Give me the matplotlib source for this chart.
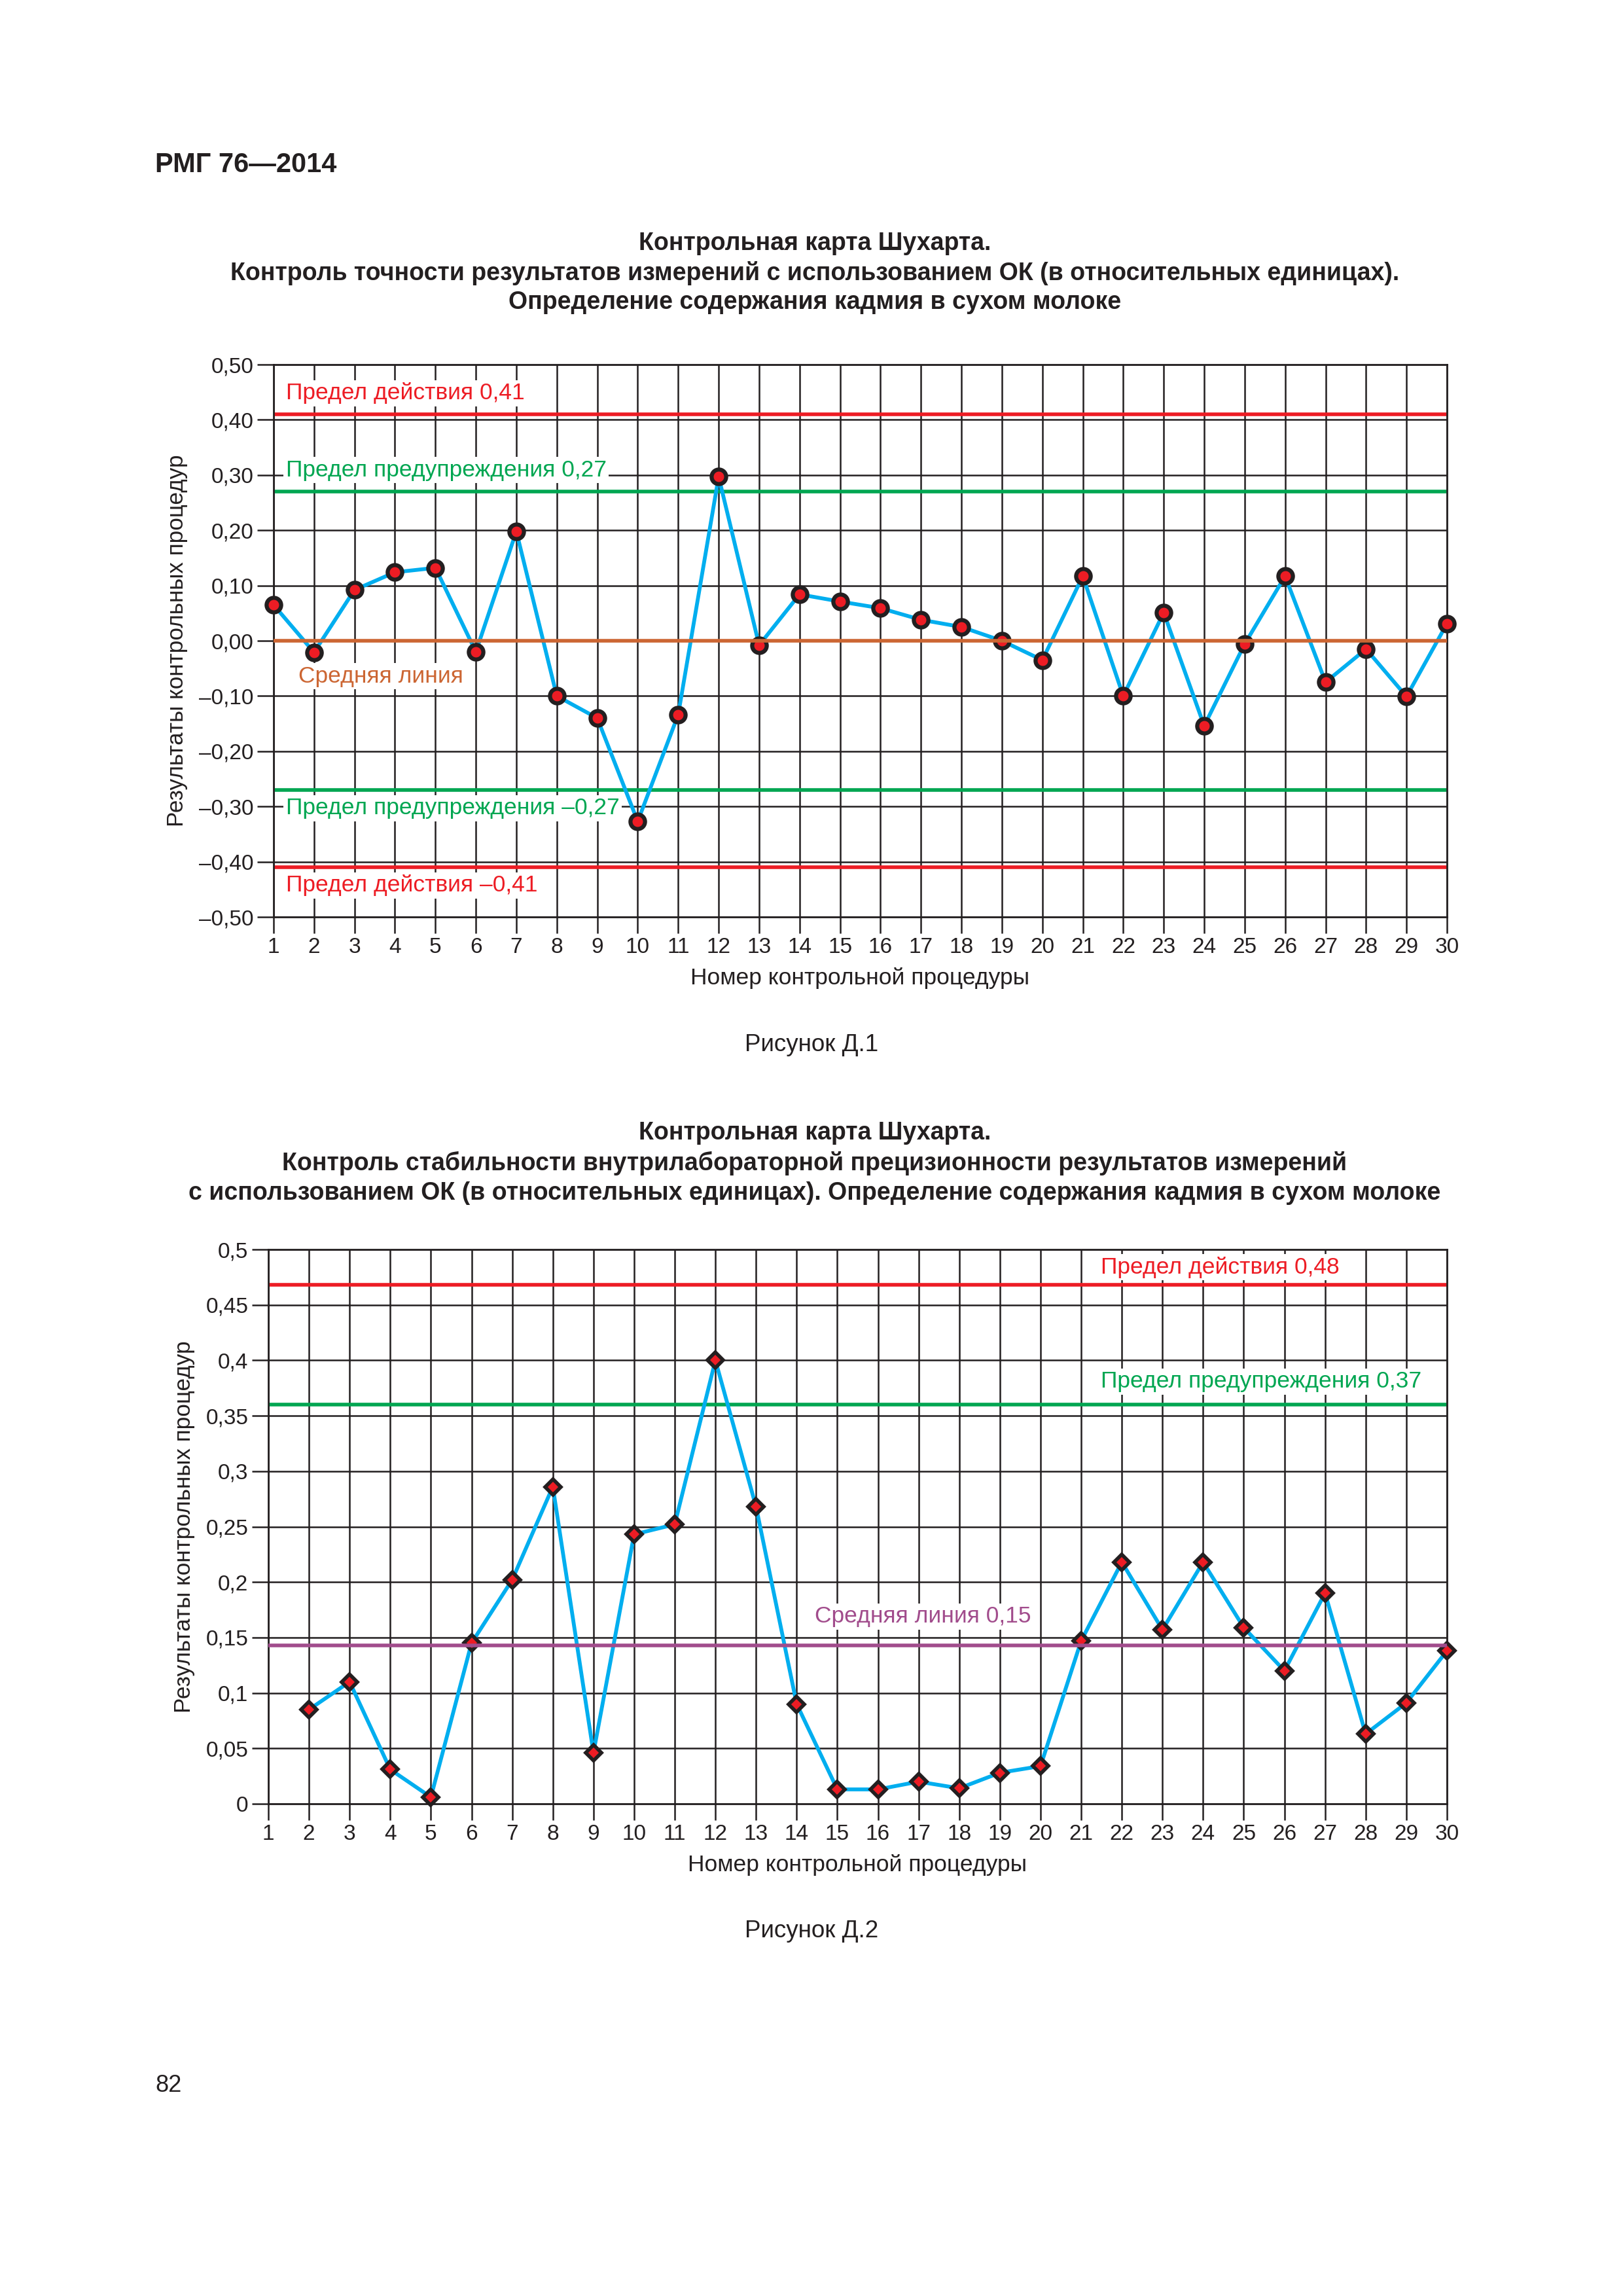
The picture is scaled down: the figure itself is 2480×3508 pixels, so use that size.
import matplotlib
matplotlib.use('Agg')
import matplotlib.pyplot as plt

plt.rcParams['font.family'] = ['Liberation Sans', 'DejaVu Sans']

W, H = 2480, 3508

# --- chart 1: accuracy (relative units) ---
proc = list(range(1, 31))
accuracy = [0.065, -0.021, 0.092, 0.124, 0.132, -0.020, 0.198, -0.100, -0.140, -0.327,
            -0.134, 0.297, -0.008, 0.084, 0.071, 0.059, 0.038, 0.025, 0.000, -0.035,
            0.117, -0.100, 0.051, -0.154, -0.006, 0.117, -0.075, -0.015, -0.101, 0.031]
action1 = 0.41
warning1 = 0.27
mean1 = 0.0
y1_ticks = [-0.5, -0.4, -0.3, -0.2, -0.1, 0.0, 0.1, 0.2, 0.3, 0.4, 0.5]
y1_labels = ['–0,50', '–0,40', '–0,30', '–0,20', '–0,10', '0,00',
             '0,10', '0,20', '0,30', '0,40', '0,50']

# --- chart 2: intralab precision (relative units) ---
proc2 = list(range(2, 31))
precision = [0.085, 0.110, 0.031, 0.006, 0.145, 0.202, 0.286, 0.046, 0.243, 0.252,
             0.400, 0.268, 0.090, 0.013, 0.013, 0.020, 0.014, 0.028, 0.034, 0.147,
             0.218, 0.157, 0.218, 0.159, 0.120, 0.190, 0.063, 0.091, 0.138]
action2 = 0.468
warning2 = 0.36
mean2 = 0.143
y2_ticks = [0, 0.05, 0.1, 0.15, 0.2, 0.25, 0.3, 0.35, 0.4, 0.45, 0.5]
y2_labels = ['0', '0,05', '0,1', '0,15', '0,2', '0,25', '0,3', '0,35', '0,4', '0,45', '0,5']

x_labels = [str(p) for p in proc]

RED = '#ED1C24'
GREEN = '#00A651'
ORANGE = '#CC6633'
PURPLE = '#A14C8C'
BLUE = '#00AEEF'
DARK = '#231F20'

fig = plt.figure(figsize=(W / 100, H / 100), dpi=100)


def fpos(x, y):
    return x / W, 1 - y / H


def chart(rect, x, y, marker, ms, mew, yticks, ylabels):
    ax = fig.add_axes(rect)
    ax.set_xlim(proc[0], proc[-1])
    ax.set_ylim(yticks[0], yticks[-1])
    ax.set_xticks(proc)
    ax.set_xticklabels(x_labels)
    ax.set_yticks(yticks)
    ax.set_yticklabels(ylabels)
    ax.set_axisbelow(True)
    ax.grid(True, color=DARK, linewidth=1.8)
    ax.tick_params(direction='out', length=18, width=1.8, color=DARK,
                   labelsize=24, labelcolor=DARK)
    ax.tick_params(axis='x', pad=4)
    ax.tick_params(axis='y', pad=4)
    for s in ax.spines.values():
        s.set_linewidth(2)
        s.set_color(DARK)
        s.set_zorder(4.5)
    ax.plot(x, y, color=BLUE, lw=4.2, marker=marker, ms=ms, mfc=RED, mec=DARK,
            mew=mew, zorder=5, clip_on=False)
    ax.set_xlabel('Номер контрольной процедуры', fontsize=25.5, color=DARK, labelpad=11)
    ax.set_ylabel('Результаты контрольных процедур', fontsize=25.3, color=DARK, labelpad=12)
    return ax


def tag(ax, x, y, s, color):
    ax.text(x, y, s, color=color, fontsize=25.5, ha='left', va='center', zorder=4,
            bbox=dict(boxstyle='square,pad=0.1', fc='white', ec='none'))


# header
fig.text(*fpos(237, 252), 'РМГ 76—2014', fontsize=30, fontweight='bold',
         ha='left', va='center', color=DARK)

# chart 1
title1 = ['Контрольная карта Шухарта.',
          'Контроль точности результатов измерений с использованием ОК (в относительных единицах).',
          'Определение содержания кадмия в сухом молоке']
for i, line in enumerate(title1):
    fig.text(*fpos(1245, 372 + 45 * i), line, fontsize=27, fontweight='bold',
             ha='center', va='center', color=DARK)

ax1 = chart([418 / W, 1 - 1401 / H, 1793 / W, 844 / H], proc, accuracy, 'o', 16, 4.5,
            y1_ticks, y1_labels)
for v, c in [(action1, RED), (-action1, RED), (warning1, GREEN), (-warning1, GREEN)]:
    ax1.axhline(v, color=c, lw=4, zorder=3)
ax1.axhline(mean1, color=ORANGE, lw=4, zorder=6)
tag(ax1, 1.3, 0.448, 'Предел действия 0,41', RED)
tag(ax1, 1.3, 0.309, 'Предел предупреждения 0,27', GREEN)
tag(ax1, 1.62, -0.064, 'Средняя линия', ORANGE)
tag(ax1, 1.3, -0.303, 'Предел предупреждения –0,27', GREEN)
tag(ax1, 1.3, -0.443, 'Предел действия –0,41', RED)

fig.text(*fpos(1240, 1597), 'Рисунок Д.1', fontsize=26.5, ha='center', va='center', color=DARK)

# chart 2
title2 = ['Контрольная карта Шухарта.',
          'Контроль стабильности внутрилабораторной прецизионности результатов измерений',
          'с использованием ОК (в относительных единицах). Определение содержания кадмия в сухом молоке']
for i, line in enumerate(title2):
    fig.text(*fpos(1245, 1731 + 46 * i), line, fontsize=27, fontweight='bold',
             ha='center', va='center', color=DARK)

ax2 = chart([410 / W, 1 - 2756 / H, 1801 / W, 847 / H], proc2, precision, 'D', 12.5, 4,
            y2_ticks, y2_labels)
ax2.axhline(action2, color=RED, lw=4, zorder=3)
ax2.axhline(warning2, color=GREEN, lw=4, zorder=3)
ax2.axhline(mean2, color=PURPLE, lw=4, zorder=6)
tag(ax2, 21.48, 0.484, 'Предел действия 0,48', RED)
tag(ax2, 21.48, 0.381, 'Предел предупреждения 0,37', GREEN)
tag(ax2, 14.45, 0.169, 'Средняя линия 0,15', PURPLE)

fig.text(*fpos(1240, 2950), 'Рисунок Д.2', fontsize=26.5, ha='center', va='center', color=DARK)
fig.text(*fpos(237, 3186), '82', fontsize=26, ha='left', va='center', color=DARK)

fig.savefig('out.png', dpi=100, facecolor='white')
